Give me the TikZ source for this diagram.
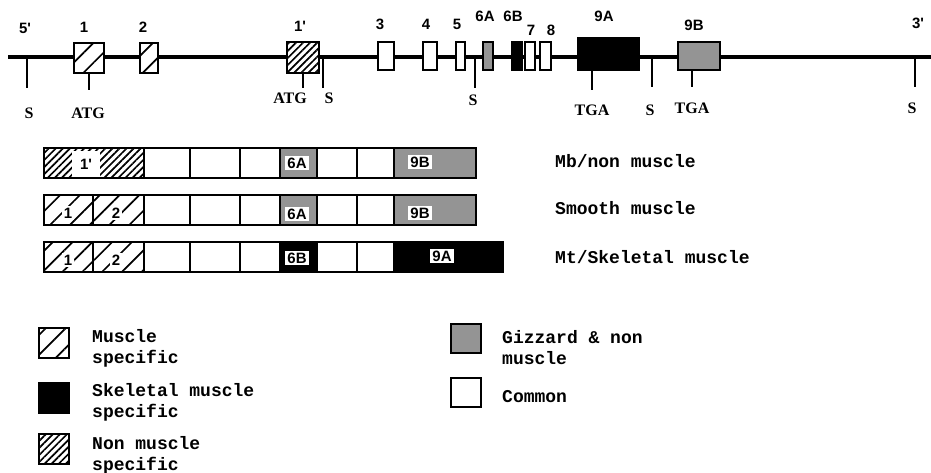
\documentclass[tikz,border=0pt]{standalone}
\usepackage{fontspec}
\usetikzlibrary{patterns.meta}
\newfontfamily\monof{Liberation Mono}
\newfontfamily\sansf{Liberation Sans}
\newfontfamily\seriff{Liberation Serif}
\begin{document}
\begin{tikzpicture}[x=1pt,y=-1pt,
  exon/.style={draw, line width=1.8pt, inner sep=0pt, fill=white},
  sparse/.style={preaction={fill=white}, pattern={Lines[angle=45,distance=14pt,line width=1.7pt]}},
  dense/.style={preaction={fill=white}, pattern={Lines[angle=45,distance=5pt,line width=1.7pt]}},
  stip/.style={fill=black!42},
  blk/.style={fill=black},
  numlab/.style={font=\sansf\bfseries\fontsize{15}{17}\selectfont, inner sep=0pt},
  sitelab/.style={font=\seriff\bfseries\fontsize{16}{18}\selectfont, inner sep=0pt},
  txt/.style={font=\monof\bfseries\fontsize{18}{21}\selectfont, inner sep=0pt, anchor=west, align=left},
  celllab/.style={fill=white, inner sep=2pt, font=\sansf\bfseries\fontsize{15}{16}\selectfont},
  cell/.style={draw, line width=1.8pt, inner sep=0pt, anchor=west, minimum height=30pt},
  tick/.style={line width=2.6pt}]
\useasboundingbox (0,0) rectangle (931,473);

% ---- gene map ----
\coordinate (L) at (8,57);
\coordinate (R) at (931,57);
\draw[line width=3.2pt] (L) -- (R);

\node[exon, sparse, minimum width=30pt, minimum height=30pt] (e1) at (89,58) {};
\node[exon, sparse, minimum width=18pt, minimum height=30pt] (e2) at (149,58) {};
\node[exon, dense, minimum width=32pt, minimum height=31pt] (e1p) at (303,57.5) {};
\node[exon, minimum width=16pt, minimum height=28pt] (e3) at (386,56) {};
\node[exon, minimum width=14pt, minimum height=28pt] (e4) at (430,56) {};
\node[exon, minimum width=9pt, minimum height=28pt] (e5) at (460.5,56) {};
\node[exon, stip, minimum width=10pt, minimum height=28pt] (e6a) at (488,56) {};
\node[exon, blk, minimum width=10pt, minimum height=28pt] (e6b) at (517,56) {};
\node[exon, minimum width=10pt, minimum height=28pt] (e7) at (530,56) {};
\node[exon, minimum width=11pt, minimum height=28pt] (e8) at (545.5,56) {};
\node[exon, blk, minimum width=61pt, minimum height=32pt] (e9a) at (608.5,54) {};
\node[exon, stip, minimum width=42pt, minimum height=28pt] (e9b) at (699,56) {};

% top labels
\node[numlab] (l5p) at (25,28) {5'};
\node[numlab] (l1) at (84,27) {1};
\node[numlab] (l2) at (143,27) {2};
\node[numlab] (l1p) at (300,26) {1'};
\node[numlab] (l3) at (380,24) {3};
\node[numlab] (l4) at (426,24) {4};
\node[numlab] (l5) at (457,24) {5};
\node[numlab] (l6a) at (485,16) {6A};
\node[numlab] (l6b) at (513,16) {6B};
\node[numlab] (l7) at (531,30) {7};
\node[numlab] (l8) at (551,30) {8};
\node[numlab] (l9a) at (604,16) {9A};
\node[numlab] (l9b) at (694,25) {9B};
\node[numlab] (l3p) at (918,23) {3'};

% sites
\coordinate (s1t) at (27,57);   \coordinate (s1b) at (27,88);
\coordinate (a1b) at (89,90);
\coordinate (a2b) at (303,88);
\coordinate (s2t) at (323,57);  \coordinate (s2b) at (323,88);
\coordinate (s3t) at (475,57);  \coordinate (s3b) at (475,88);
\coordinate (t1b) at (592,90);
\coordinate (s4t) at (652,57);  \coordinate (s4b) at (652,87);
\coordinate (t2b) at (692,87);
\coordinate (s5t) at (915,57);  \coordinate (s5b) at (915,87);

\draw[tick] (s1t) -- (s1b);
\draw[tick] (e1.south) -- (a1b);
\draw[tick] (e1p.south) -- (a2b);
\draw[tick] (s2t) -- (s2b);
\draw[tick] (s3t) -- (s3b);
\draw[tick] (e9a.south -| t1b) -- (t1b);
\draw[tick] (s4t) -- (s4b);
\draw[tick] (e9b.south -| t2b) -- (t2b);
\draw[tick] (s5t) -- (s5b);

\node[sitelab] (ls1) at (29,113) {S};
\node[sitelab] (la1) at (88,113) {ATG};
\node[sitelab] (la2) at (290,98) {ATG};
\node[sitelab] (ls2) at (329,98) {S};
\node[sitelab] (ls3) at (473,100) {S};
\node[sitelab] (lt1) at (592,110) {TGA};
\node[sitelab] (ls4) at (650,110) {S};
\node[sitelab] (lt2) at (692,108) {TGA};
\node[sitelab] (ls5) at (912,108) {S};

% ---- transcripts ----
% row 1
\node[cell, dense, minimum width=100pt] (r1a) at (43,163) {};
\node[cell, minimum width=46pt] (r1b) at (143,163) {};
\node[cell, minimum width=50pt] (r1c) at (189,163) {};
\node[cell, minimum width=40pt] (r1d) at (239,163) {};
\node[cell, stip, minimum width=37pt] (r1e) at (279,163) {};
\node[cell, minimum width=40pt] (r1f) at (316,163) {};
\node[cell, minimum width=37pt] (r1g) at (356,163) {};
\node[cell, stip, minimum width=82pt] (r1h) at (393,163) {};
\node[celllab, minimum height=26pt, minimum width=28pt] at (86,164) {1'};
\node[celllab] at (297,163) {6A};
\node[celllab] at (420,162) {9B};
% row 2
\node[cell, sparse, minimum width=49pt] (r2a) at (43,210) {};
\node[cell, sparse, minimum width=51pt] (r2b) at (92,210) {};
\node[cell, minimum width=46pt] (r2c) at (143,210) {};
\node[cell, minimum width=50pt] (r2d) at (189,210) {};
\node[cell, minimum width=40pt] (r2e) at (239,210) {};
\node[cell, stip, minimum width=37pt] (r2f) at (279,210) {};
\node[cell, minimum width=40pt] (r2g) at (316,210) {};
\node[cell, minimum width=37pt] (r2h) at (356,210) {};
\node[cell, stip, minimum width=82pt] (r2i) at (393,210) {};
\node[celllab] at (68,213) {1};
\node[celllab] at (116,213) {2};
\node[celllab] at (297,214) {6A};
\node[celllab] at (420,213) {9B};
% row 3
\node[cell, sparse, minimum width=49pt] (r3a) at (43,257) {};
\node[cell, sparse, minimum width=51pt] (r3b) at (92,257) {};
\node[cell, minimum width=46pt] (r3c) at (143,257) {};
\node[cell, minimum width=50pt] (r3d) at (189,257) {};
\node[cell, minimum width=40pt] (r3e) at (239,257) {};
\node[cell, blk, minimum width=37pt] (r3f) at (279,257) {};
\node[cell, minimum width=40pt] (r3g) at (316,257) {};
\node[cell, minimum width=37pt] (r3h) at (356,257) {};
\node[cell, blk, minimum width=109pt] (r3i) at (393,257) {};
\node[celllab] at (68,260) {1};
\node[celllab] at (116,260) {2};
\node[celllab] at (297,258) {6B};
\node[celllab] at (442,256) {9A};

\node[txt] (t1) at (555,161) {Mb/non muscle};
\node[txt] (t2) at (555,208) {Smooth muscle};
\node[txt] (t3) at (555,257) {Mt/Skeletal muscle};

% ---- legend ----
\node[exon, sparse, minimum width=30pt, minimum height=30pt] (k1) at (54,343) {};
\node[exon, blk, minimum width=30pt, minimum height=30pt] (k2) at (54,398) {};
\node[exon, dense, minimum width=30pt, minimum height=30pt] (k3) at (54,449) {};
\node[exon, stip, minimum width=30pt, minimum height=29pt] (k4) at (466,338.5) {};
\node[exon, minimum width=30pt, minimum height=29pt] (k5) at (466,392.5) {};

\node[txt] (k1t) at (92,348) {Muscle\\specific};
\node[txt] (k2t) at (92,402) {Skeletal muscle\\specific};
\node[txt] (k3t) at (92,455) {Non muscle\\specific};
\node[txt] (k4t) at (502,348) {Gizzard \& non\\muscle};
\node[txt] (k5t) at (502,397) {Common};
\end{tikzpicture}
\end{document}
